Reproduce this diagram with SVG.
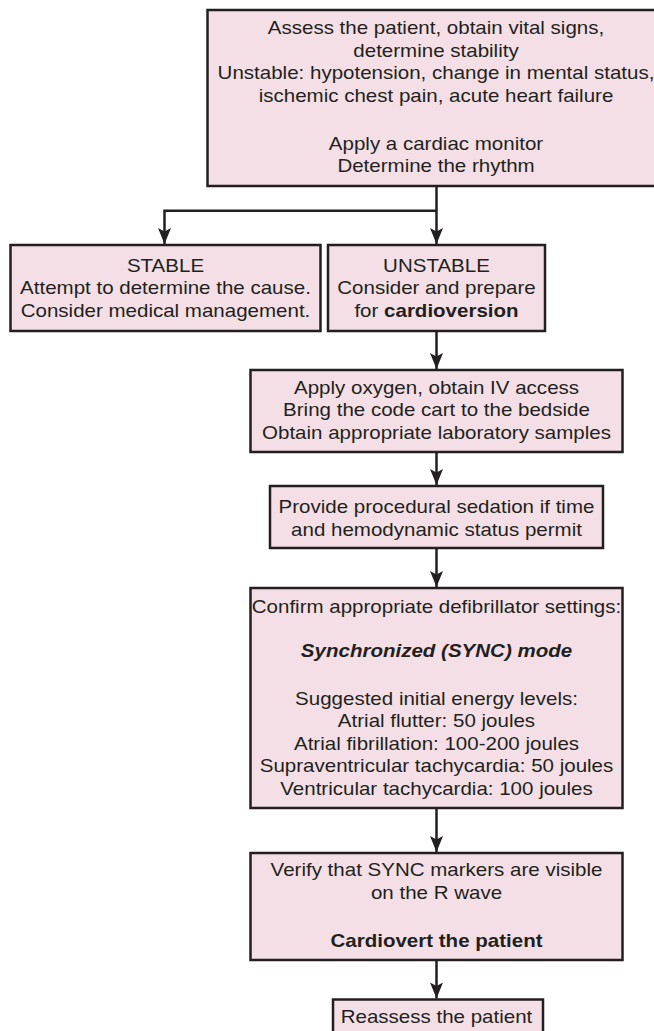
<svg xmlns="http://www.w3.org/2000/svg" width="654" height="1031" viewBox="0 0 654 1031">
<style>
.box{fill:#f3dfe5;stroke:#231f20;stroke-width:2.5}
.t{font-family:"Liberation Sans",Arial,Helvetica,sans-serif;font-size:18px;fill:#231f20;text-anchor:middle}
.b{font-weight:bold}
.bi{font-weight:bold;font-style:italic}
.c{fill:none;stroke:#231f20;stroke-width:2.5}
</style>
<defs>
<marker id="ah" markerUnits="userSpaceOnUse" markerWidth="18" markerHeight="16" viewBox="-17 -8 18 16" refX="0" refY="0" orient="auto" overflow="visible">
<path d="M0,0 L-16,-6.5 L-12.5,0 L-16,6.5 Z" fill="#231f20"/>
</marker>
</defs>
<rect width="654" height="1031" fill="#ffffff"/>
<g id="connectors">
<line class="c" x1="436.5" y1="186" x2="436.5" y2="244" marker-end="url(#ah)"/>
<polyline class="c" points="436.5,210.7 164.5,210.7 164.5,244" marker-end="url(#ah)"/>
<line class="c" x1="436.5" y1="331" x2="436.5" y2="369" marker-end="url(#ah)"/>
<line class="c" x1="436.5" y1="452" x2="436.5" y2="485" marker-end="url(#ah)"/>
<line class="c" x1="436.5" y1="548" x2="436.5" y2="587" marker-end="url(#ah)"/>
<line class="c" x1="436.5" y1="808" x2="436.5" y2="852" marker-end="url(#ah)"/>
<line class="c" x1="436.5" y1="960" x2="436.5" y2="998.5" marker-end="url(#ah)"/>
</g>
<g id="assess">
<rect class="box" x="207.5" y="10" width="460" height="176"/>
<g transform="translate(436 0) scale(1.14 1)">
<text class="t" x="0" y="34.5">Assess the patient, obtain vital signs,</text>
<text class="t" x="0" y="57">determine stability</text>
<text class="t" x="0" y="79.5">Unstable: hypotension, change in mental status,</text>
<text class="t" x="0" y="102">ischemic chest pain, acute heart failure</text>
<text class="t" x="0" y="150">Apply a cardiac monitor</text>
<text class="t" x="0" y="172.5">Determine the rhythm</text>
</g>
</g>
<g id="stable">
<rect class="box" x="10.5" y="245" width="310" height="86"/>
<g transform="translate(165.5 0) scale(1.14 1)">
<text class="t" x="0" y="272">STABLE</text>
<text class="t" x="0" y="294.5">Attempt to determine the cause.</text>
<text class="t" x="0" y="317">Consider medical management.</text>
</g>
</g>
<g id="unstable">
<rect class="box" x="328" y="245" width="217" height="86"/>
<g transform="translate(436.5 0) scale(1.14 1)">
<text class="t" x="0" y="272">UNSTABLE</text>
<text class="t" x="0" y="294.5">Consider and prepare</text>
<text class="t" x="0" y="317">for <tspan class="b">cardioversion</tspan></text>
</g>
</g>
<g id="oxygen">
<rect class="box" x="250.5" y="370" width="372" height="82"/>
<g transform="translate(436.5 0) scale(1.14 1)">
<text class="t" x="0" y="394">Apply oxygen, obtain IV access</text>
<text class="t" x="0" y="416.5">Bring the code cart to the bedside</text>
<text class="t" x="0" y="439">Obtain appropriate laboratory samples</text>
</g>
</g>
<g id="sedation">
<rect class="box" x="270" y="486" width="333" height="62"/>
<g transform="translate(436.5 0) scale(1.14 1)">
<text class="t" x="0" y="513">Provide procedural sedation if time</text>
<text class="t" x="0" y="536">and hemodynamic status permit</text>
</g>
</g>
<g id="settings">
<rect class="box" x="250.5" y="588" width="372" height="220"/>
<g transform="translate(436.5 0) scale(1.14 1)">
<text class="t" x="0" y="613">Confirm appropriate defibrillator settings:</text>
<text class="t bi" x="0" y="657.5">Synchronized (SYNC) mode</text>
<text class="t" x="0" y="705">Suggested initial energy levels:</text>
<text class="t" x="0" y="727.5">Atrial flutter: 50 joules</text>
<text class="t" x="0" y="750">Atrial fibrillation: 100-200 joules</text>
<text class="t" x="0" y="772.5">Supraventricular tachycardia: 50 joules</text>
<text class="t" x="0" y="795">Ventricular tachycardia: 100 joules</text>
</g>
</g>
<g id="verify">
<rect class="box" x="250.5" y="853" width="372" height="107"/>
<g transform="translate(436.5 0) scale(1.14 1)">
<text class="t" x="0" y="876">Verify that SYNC markers are visible</text>
<text class="t" x="0" y="899.5">on the R wave</text>
<text class="t b" x="0" y="947">Cardiovert the patient</text>
</g>
</g>
<g id="reassess">
<rect class="box" x="333" y="999.5" width="210" height="45"/>
<g transform="translate(436.5 0) scale(1.14 1)">
<text class="t" x="0" y="1023">Reassess the patient</text>
</g>
</g>
</svg>
